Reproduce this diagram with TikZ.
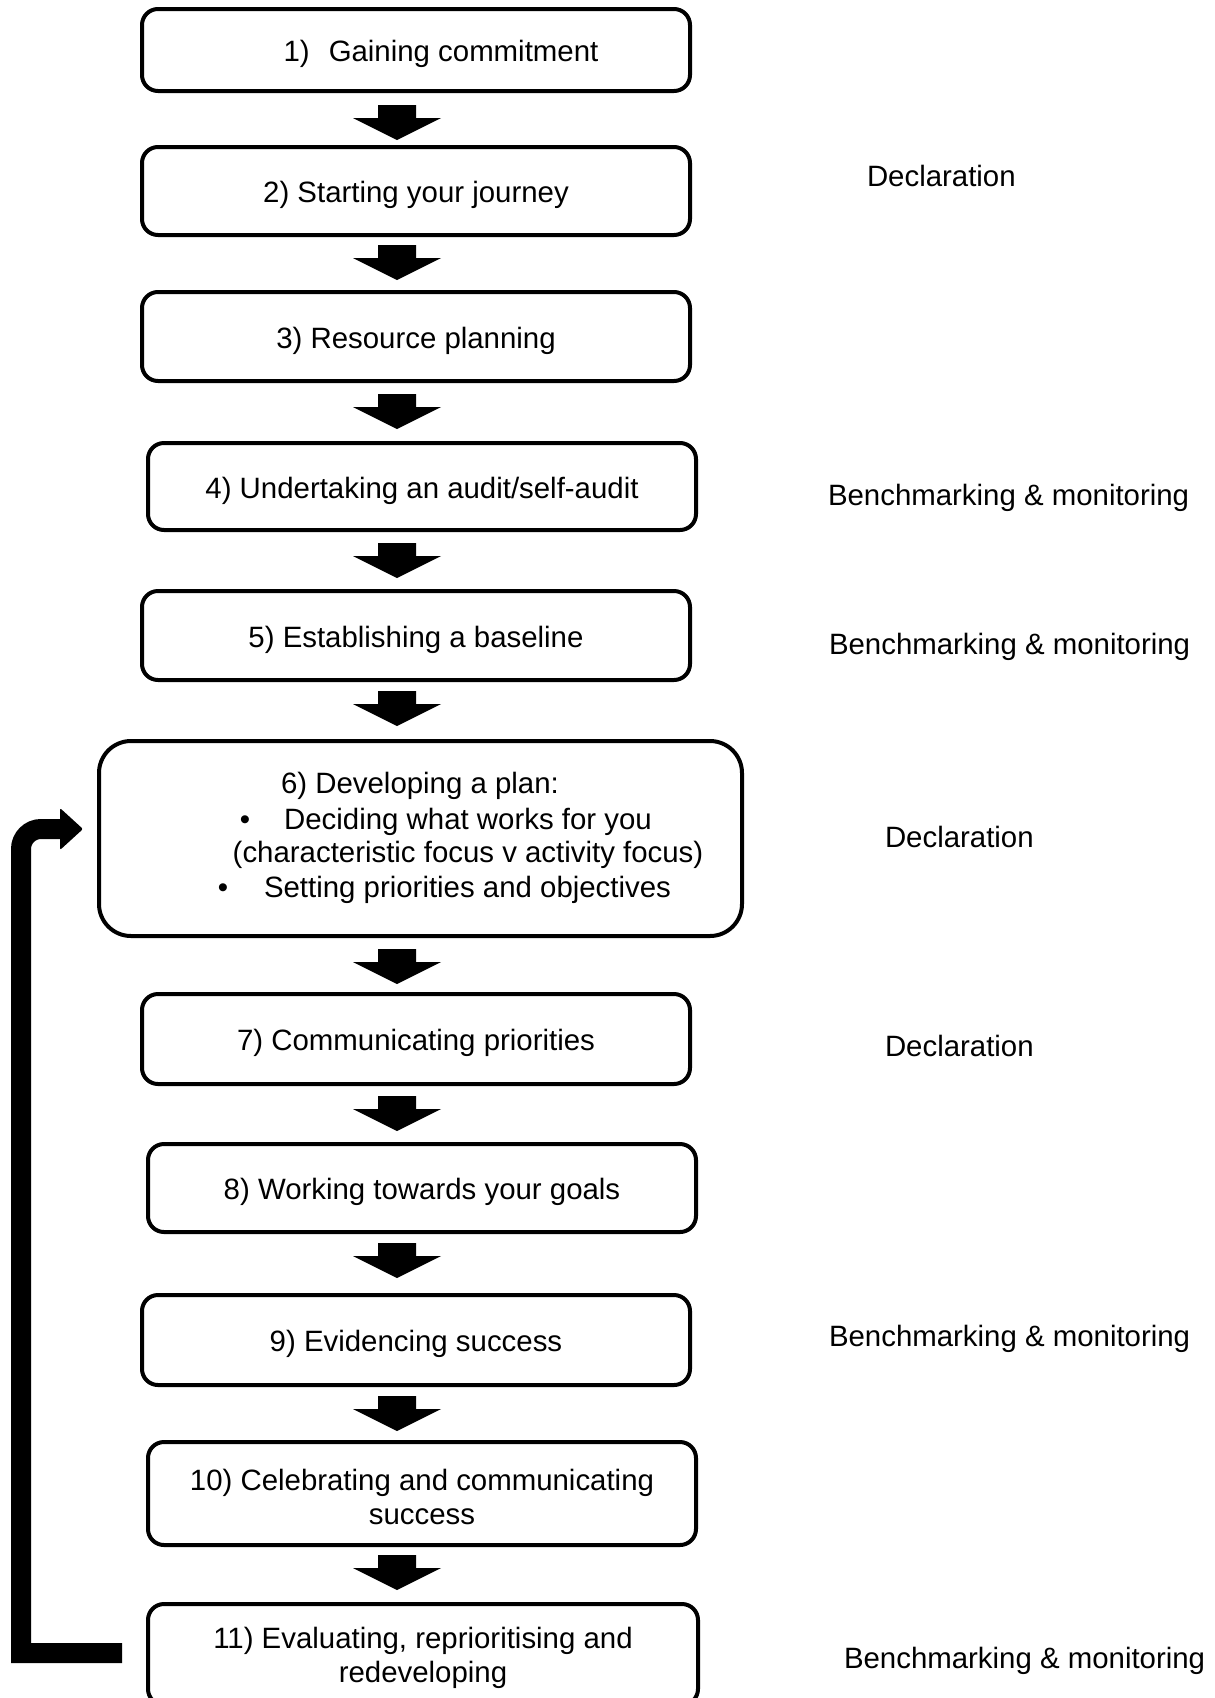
\documentclass[tikz,border=0pt]{standalone}
\usepackage{fontspec}
\setmainfont{Liberation Sans}
\usetikzlibrary{calc}
\begin{document}
\begin{tikzpicture}[x=0.5pt,y=-0.5pt,
  every node/.style={font=\fontsize{14.7pt}{17.3pt}\selectfont, inner sep=0pt, outer sep=0pt},
  stepbox/.style={draw, line width=2pt, rounded corners=8pt, align=center, text height=11.6pt, text depth=0pt},
  twobox/.style={stepbox, text height=, text depth=},
  txt/.style={text height=11.6pt, text depth=0pt},
  side/.style={anchor=west, text height=11.6pt, text depth=0pt},
  downarr/.pic={\fill (-19,0) -- (19,0) -- (19,13) -- (44,13) -- (0,35) -- (-44,13) -- (-19,13) -- cycle;}
]
\useasboundingbox (0,0) rectangle (1215,1698);

% boxes
\node[stepbox, minimum width=274pt, minimum height=41pt] (b1) at (416,50) {\hspace*{25pt}1)\hspace{5.4pt} Gaining commitment};
\node[stepbox, minimum width=274pt, minimum height=44pt] (b2) at (416,191) {2) Starting your journey};
\node[stepbox, minimum width=274pt, minimum height=44.5pt] (b3) at (416,336.5) {3) Resource planning};
\node[stepbox, minimum width=274pt, minimum height=43.5pt] (b4) at (422,486.5) {4) Undertaking an audit/self-audit};
\node[stepbox, minimum width=274pt, minimum height=44.5pt] (b5) at (416,635.5) {5) Establishing a baseline};
\node[draw, line width=2pt, rounded corners=16pt, minimum width=321.5pt, minimum height=97.5pt] (b6) at (420.5,838.5) {};
\node[stepbox, minimum width=274pt, minimum height=45pt] (b7) at (416,1039) {7) Communicating priorities};
\node[stepbox, minimum width=274pt, minimum height=44pt] (b8) at (422,1188) {8) Working towards your goals};
\node[stepbox, minimum width=274pt, minimum height=45pt] (b9) at (416,1340) {9) Evidencing success};
\node[twobox, minimum width=274pt, minimum height=51.5pt] (b10) at (422,1493.5) {\rule{0pt}{14pt}10) Celebrating and communicating\\success};
\node[twobox, minimum width=275pt, minimum height=50.5pt] (b11) at (423,1654.5) {\rule{0pt}{14pt}11) Evaluating, reprioritising and\\redeveloping};

% box 6 text
\node[txt] (t6a) at (420,782) {6) Developing a plan:};
\node[txt] (t6b1) at (245,818) {•};
\node[txt] (t6b) at (468,818) {Deciding what works for you};
\node[txt] (t6c) at (468,851) {(characteristic focus v activity focus)};
\node[txt] (t6d1) at (223,886) {•};
\node[txt] (t6d) at (467.5,886) {Setting priorities and objectives};

% block arrows
\pic at (397,105) {downarr};
\pic at (397,245) {downarr};
\pic at (397,394) {downarr};
\pic at (397,543) {downarr};
\pic at (397,691) {downarr};
\pic at (397,949) {downarr};
\pic at (397,1096) {downarr};
\pic at (397,1243) {downarr};
\pic at (397,1396) {downarr};
\pic at (397,1555) {downarr};

% loop arrow
\coordinate (ls) at (122,1653);
\coordinate (lc) at (21,1653);
\coordinate (lt) at (21,829);
\coordinate (le) at (61,829);
\draw[line width=10pt, line join=miter] (ls) -- (lc) {[rounded corners=10pt] -- (lt) -- (le)};
\fill[rounded corners=1pt] (60,808) -- (83,829) -- (60,850) -- cycle;

% side labels
\node[side] (s1) at (867,175) {Declaration};
\node[side] (s2) at (828,494) {Benchmarking \& monitoring};
\node[side] (s3) at (829,643) {Benchmarking \& monitoring};
\node[side] (s4) at (885,836) {Declaration};
\node[side] (s5) at (885,1045) {Declaration};
\node[side] (s6) at (829,1335) {Benchmarking \& monitoring};
\node[side] (s7) at (844,1657) {Benchmarking \& monitoring};
\end{tikzpicture}
\end{document}
